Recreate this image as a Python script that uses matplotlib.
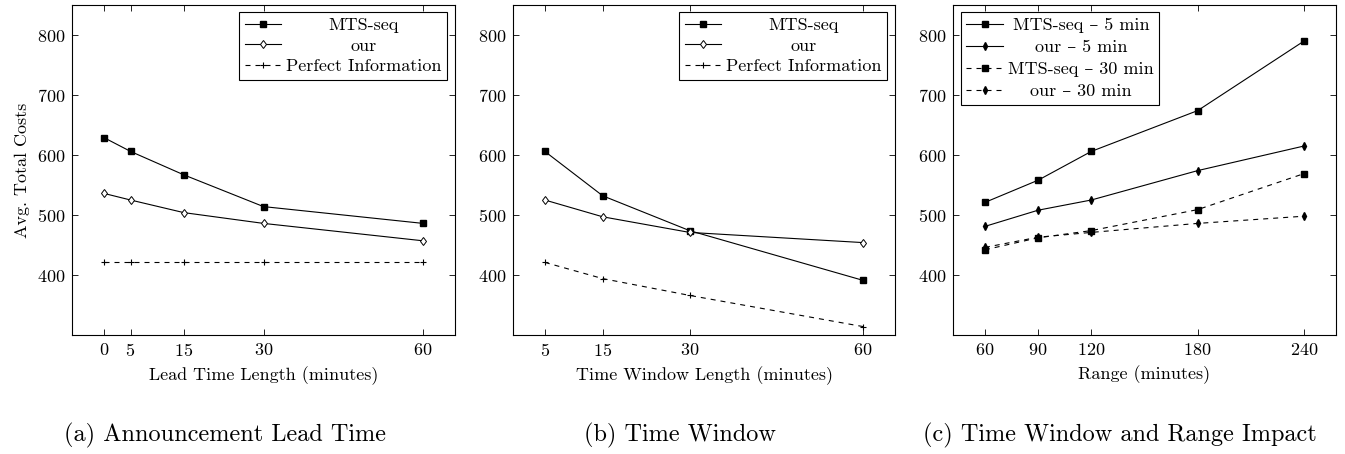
import matplotlib
matplotlib.use("Agg")
import matplotlib.pyplot as plt

plt.rcParams['font.family'] = ['cmr10', 'DejaVu Serif']
plt.rcParams['axes.formatter.use_mathtext'] = True
plt.rcParams['mathtext.fontset'] = 'cm'

# ---- data ----
lead_x = [0, 5, 15, 30, 60]
lead_mts = [629, 606, 567, 514, 486]
lead_our = [536, 525, 504, 486, 457]
lead_perfect = [421, 421, 421, 421, 421]

win_x = [5, 15, 30, 60]
win_mts = [606, 532, 474, 391]
win_our = [525, 497, 471, 454]
win_perfect = [421, 394, 366, 314]

range_x = [60, 90, 120, 180, 240]
range_mts_5 = [521, 558, 606, 674, 790]
range_our_5 = [481, 508, 525, 574, 615]
range_mts_30 = [442, 462, 474, 509, 569]
range_our_30 = [446, 463, 471, 486, 498]

yticks = [400, 500, 600, 700, 800]
labels_ab = ["MTS-seq", "our", "Perfect Information"]
labels_c = ["MTS-seq \u2013 5 min", "our \u2013 5 min", "MTS-seq \u2013 30 min", "our \u2013 30 min"]
captions = ["(a) Announcement Lead Time", "(b) Time Window", "(c) Time Window and Range Impact"]
xlabels = ["Lead Time Length (minutes)", "Time Window Length (minutes)", "Range (minutes)"]
ylabel = "Avg. Total Costs"

W, H = 1345, 454
fig = plt.figure(figsize=(W / 100, H / 100), dpi=100)

def px_axes(left, right, top=5, bottom=335):
    return fig.add_axes([left / W, 1 - bottom / H, (right - left) / W, (bottom - top) / H])

ax_a = px_axes(72, 455)
ax_b = px_axes(513, 895)
ax_c = px_axes(953, 1336)

LW = 0.8
DASH = (0, (4.5, 4.5))
kw_mts = dict(color='black', lw=LW, marker='s', ms=5, mfc='black', mec='black')
kw_our = dict(color='black', lw=LW, marker='d', ms=4.3, mfc='white', mec='black', mew=0.7)
kw_perf = dict(color='black', lw=LW, ls=DASH, marker='+', ms=3.8, mew=0.8)

ax_a.plot(lead_x, lead_mts, label=labels_ab[0], **kw_mts)
ax_a.plot(lead_x, lead_our, label=labels_ab[1], **kw_our)
ax_a.plot(lead_x, lead_perfect, label=labels_ab[2], **kw_perf)

ax_b.plot(win_x, win_mts, label=labels_ab[0], **kw_mts)
ax_b.plot(win_x, win_our, label=labels_ab[1], **kw_our)
ax_b.plot(win_x, win_perfect, label=labels_ab[2], **kw_perf)

kw_our_c = dict(color='black', lw=LW, marker='d', ms=4.2, mfc='black', mec='black')
ax_c.plot(range_x, range_mts_5, label=labels_c[0], **kw_mts)
ax_c.plot(range_x, range_our_5, label=labels_c[1], **kw_our_c)
ax_c.plot(range_x, range_mts_30, label=labels_c[2], ls=DASH, **kw_mts)
ax_c.plot(range_x, range_our_30, label=labels_c[3], ls=DASH, **kw_our_c)

FS = 13
for ax, xt, xl in [(ax_a, lead_x, xlabels[0]), (ax_b, win_x, xlabels[1]), (ax_c, range_x, xlabels[2])]:
    ax.set_ylim(300, 850)
    ax.set_yticks(yticks)
    ax.set_xticks(xt)
    ax.set_xlabel(xl, fontsize=FS, labelpad=5)
    ax.tick_params(direction='in', top=True, right=True, length=4, width=0.6, labelsize=FS, pad=5)
    for s in ax.spines.values():
        s.set_linewidth(0.8)

ax_a.set_xlim(-6, 66)
ax_b.set_xlim(-0.5, 65.5)
ax_c.set_xlim(42, 258)
ax_a.set_ylabel(ylabel, fontsize=FS, labelpad=5)

leg_kw = dict(fontsize=FS, frameon=True, fancybox=False, framealpha=1, edgecolor='black',
              borderaxespad=0, handlelength=2.0, handletextpad=0.3,
              borderpad=0.3)
legs = []
legs.append(ax_a.legend(loc='upper right', bbox_to_anchor=(0.979, 0.979), labelspacing=0.28, **leg_kw))
legs.append(ax_b.legend(loc='upper right', bbox_to_anchor=(0.979, 0.979), labelspacing=0.28, **leg_kw))
legs.append(ax_c.legend(loc='upper left', bbox_to_anchor=(0.021, 0.979), labelspacing=0.36, **leg_kw))
for lg in legs:
    lg.get_frame().set_linewidth(0.8)

# center legend texts (pgfplots style)
fig.canvas.draw()
r = fig.canvas.get_renderer()
for lg in legs:
    texts = lg.get_texts()
    ws = [t.get_window_extent(r).width for t in texts]
    mw = max(ws)
    for t, w in zip(texts, ws):
        t.set_position(((mw - w) / 2, 0))

cap_y = 1 - 435 / H
for cx, cap in zip([225, 680, 1120], captions):
    fig.text(cx / W, cap_y, cap, ha='center', va='center', fontsize=17.5)

fig.savefig("out.png", dpi=100)
